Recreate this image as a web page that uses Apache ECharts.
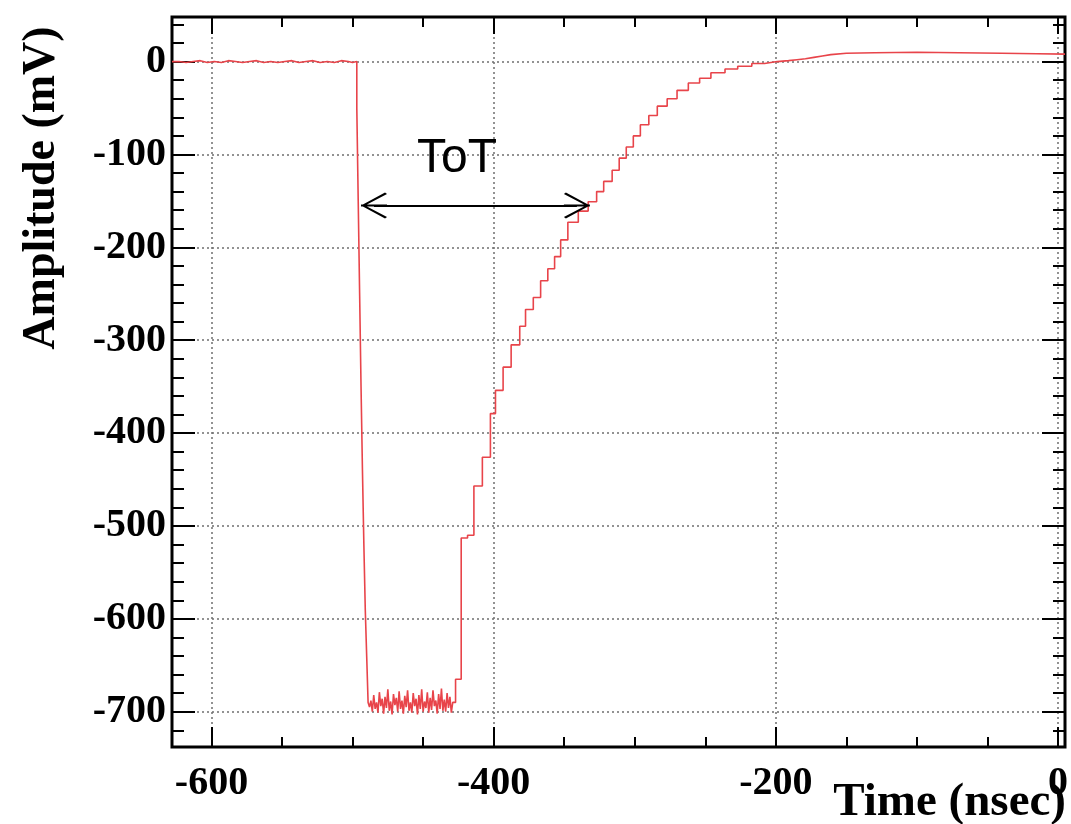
<!DOCTYPE html>
<html>
<head>
<meta charset="utf-8">
<script src="https://cdn.jsdelivr.net/npm/echarts@6/dist/echarts.min.js"></script>
<style>
html,body{margin:0;padding:0;background:#fff;}
#chart{width:1071px;height:824px;}
</style>
</head>
<body>
<div id="chart"></div>
<script>
// ---------------- data ----------------
const timeNs = [
  -628,-623,-618,-613,-608,-603,-598,-593,-588,-583,-578,-573,-568,-563,-558,-553,-548,-543,-538,-533,-528,-523,-518,-513,-508,-503,-500,
  -497,-496,-495,-494,-493,-492,-491,-490,-489,
  -488,-487,-486,-485,-484,-483,-482,-481,-480,-479,-478,-477,-476,-475,-474,-473,-472,-471,-470,-469,
  -468,-467,-466,-465,-464,-463,-462,-461,-460,-459,-458,-457,-456,-455,-454,-453,-452,-451,-450,-449,
  -448,-447,-446,-445,-444,-443,-442,-441,-440,-439,-438,-437,-436,-435,-434,-433,-432,-431,-430,-429,
  -427,-423,-418.5,-414,-408,-402.3,-398.7,-393.3,-387.6,-381.5,-377.4,-371.9,-366.7,-361.6,-356.8,-352.5,-347.4,
  -340,-333,-327,-322,-316,-311,-306,-301,-296,-290,-284,-277,-270,-262,-254,-246,-236,-227,-217,-208,-199,-191,-185,-179,-173,-167,-161,
  -150,-130,-100,-70,-40,-15,5
];
const amplitudeMv = [
  0,-1,0,1,-1,0,-1,1,0,-1,0,1,-1,0,-1,0,1,-1,0,1,-1,0,-1,1,0,-1,0,
  -50,-150,-250,-350,-440,-520,-590,-640,-690,
  -695,-688,-700,-682,-697,-690,-701,-679,-694,-686,-702,-684,-696,-676,-699,-689,-703,-681,-693,-685,
  -700,-678,-697,-688,-702,-683,-695,-677,-699,-690,-701,-680,-694,-686,-703,-682,-697,-676,-700,-689,
  -696,-679,-701,-685,-698,-677,-694,-688,-702,-681,-697,-675,-699,-687,-700,-680,-696,-684,-701,-690,
  -665,-513,-510,-457,-426,-379,-354,-329,-305,-285,-267,-254,-236,-223,-210,-192,-173,
  -161,-151,-140,-129,-117,-104,-92,-80,-68,-58,-48,-40,-31,-23,-18,-12,-8,-5,-2,0,1,2,3,4.5,6,7.5,9,
  9.5,10,9.5,9,8.5,8,8
];

const xRange = [-628, 5];
const yRange = [-738, 48];
const xMajorTicks = [-600, -400, -200, 0];
const xMinorTicks = [-600, -550, -500, -450, -400, -350, -300, -250, -200, -150, -100, -50, 0];
const yMajorTicks = [0, -100, -200, -300, -400, -500, -600, -700];
const yMinorTicks = [40, 20, 0, -20, -40, -60, -80, -100, -120, -140, -160, -180, -200, -220, -240, -260, -280,
  -300, -320, -340, -360, -380, -400, -420, -440, -460, -480, -500, -520, -540, -560, -580, -600, -620, -640,
  -660, -680, -700, -720];

// ToT annotation (data coordinates; arrow-head centres)
const totStartNs = -484.8;
const totEndNs = -341;
const totLevelMv = -155;
const totLabelText = 'ToT';
const totLabelPos = [-426, -105];

const xTitle = 'Time (nsec)';
const yTitle = 'Amplitude (mV)';

// ---------------- chart ----------------
const waveform = timeNs.map((t, i) => [t, amplitudeMv[i]]);

const serif = '"Liberation Serif", "Times New Roman", serif';
const sans = '"Liberation Sans", Arial, Helvetica, sans-serif';

function xAxisDef(position, ticks, len, withLabels) {
  return {
    type: 'value', gridIndex: 0, min: xRange[0], max: xRange[1], position: position,
    axisLine: { show: false, onZero: false },
    axisTick: { show: true, inside: true, length: len, customValues: ticks, lineStyle: { color: '#000', width: 2 } },
    axisLabel: withLabels ? {
      show: true, customValues: xMajorTicks, color: '#000', fontFamily: serif, fontWeight: 'bold', fontSize: 40, margin: 17
    } : { show: false },
    splitLine: withLabels ? { show: true, lineStyle: { color: '#6f6f6f', width: 1.5, type: [2, 3] } } : { show: false },
    minorTick: { show: false }
  };
}
function yAxisDef(position, ticks, len, withLabels) {
  return {
    type: 'value', gridIndex: 0, min: yRange[0], max: yRange[1], position: position,
    axisLine: { show: false, onZero: false },
    axisTick: { show: true, inside: true, length: len, customValues: ticks, lineStyle: { color: '#000', width: 2 } },
    axisLabel: withLabels ? {
      show: true, customValues: yMajorTicks, color: '#000', fontFamily: serif, fontWeight: 'bold', fontSize: 40, margin: 6
    } : { show: false },
    splitLine: withLabels ? { show: true, lineStyle: { color: '#6f6f6f', width: 1.5, type: [2, 3] } } : { show: false },
    minorTick: { show: false }
  };
}

const chevron = 'path://M12,0 L14,0 L14,26 L12,26 Z M13,0 L26,24 L24.5,26 L13,4 L1.5,26 L0,24 Z';

const chart = echarts.init(document.getElementById('chart'), null, { renderer: 'canvas' });
chart.setOption({
  animation: false,
  backgroundColor: '#ffffff',
  grid: {
    left: 172, right: 6, top: 17, bottom: 77,
    show: true, borderColor: '#000', borderWidth: 3, backgroundColor: 'transparent',
    containLabel: false, outerBoundsMode: 'none'
  },
  xAxis: [
    xAxisDef('bottom', xMajorTicks, 20, true),
    xAxisDef('bottom', xMinorTicks, 10, false),
    xAxisDef('top', xMajorTicks, 17, false),
    xAxisDef('top', xMinorTicks, 10, false)
  ],
  yAxis: [
    yAxisDef('left', yMajorTicks, 23, true),
    yAxisDef('left', yMinorTicks, 12, false),
    yAxisDef('right', yMajorTicks, 23, false),
    yAxisDef('right', yMinorTicks, 12, false)
  ],
  graphic: [
    {
      type: 'text', x: 42, y: 188, rotation: Math.PI / 2,
      style: { text: yTitle, fill: '#000', font: 'bold 46px ' + serif, align: 'center', verticalAlign: 'middle', textAlign: 'center', textVerticalAlign: 'middle' }
    },
    {
      type: 'text', x: 1066, y: 803,
      style: { text: xTitle, fill: '#000', font: 'bold 47px ' + serif, align: 'right', verticalAlign: 'middle', textAlign: 'right', textVerticalAlign: 'middle' }
    }
  ],
  series: [
    {
      type: 'line', name: 'waveform', xAxisIndex: 0, yAxisIndex: 0,
      data: waveform, step: 'end', showSymbol: false, symbol: 'none',
      lineStyle: { color: '#e8444a', width: 1.6 },
      silent: true, z: 3,
      markLine: {
        silent: true, animation: false,
        symbol: [chevron, chevron], symbolSize: [26, 26],
        lineStyle: { color: '#000', width: 2, type: 'solid' },
        label: { show: false },
        data: [[{ coord: [totStartNs, totLevelMv] }, { coord: [totEndNs, totLevelMv] }]]
      },
      markPoint: {
        silent: true, animation: false,
        symbol: 'circle', symbolSize: 1, itemStyle: { color: 'rgba(0,0,0,0)' },
        label: { show: true, position: 'inside', formatter: totLabelText, color: '#000', fontFamily: sans, fontSize: 48 },
        data: [{ coord: totLabelPos, value: totLabelText }]
      }
    }
  ]
});
</script>
</body>
</html>
